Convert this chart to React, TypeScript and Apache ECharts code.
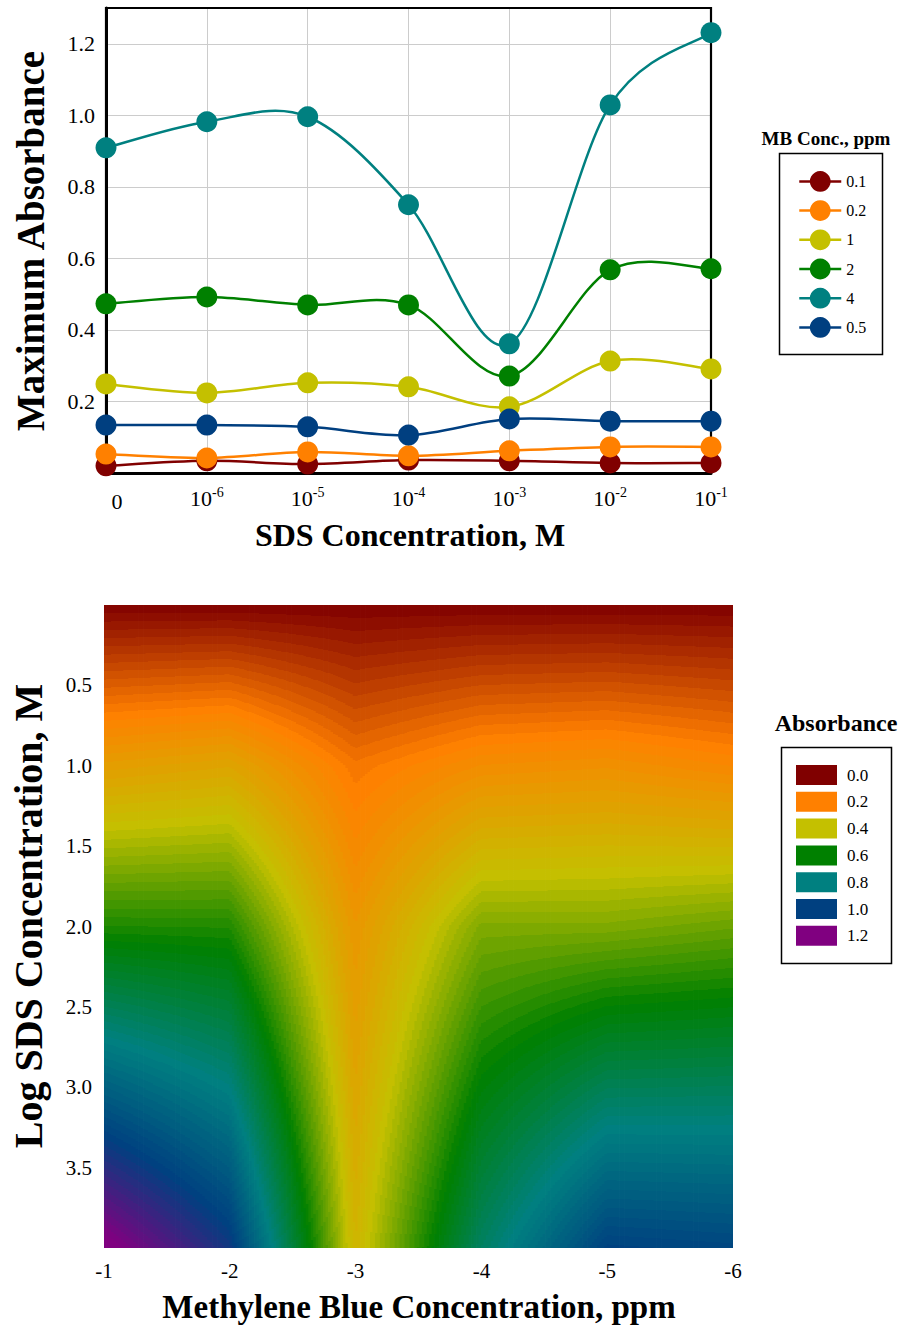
import React, { useEffect, useRef } from 'react';
import * as echarts from 'echarts';

const SERIF = 'Liberation Serif, Times New Roman, serif';

// ---- Top chart data ----
const sdsCategories = ['0', '1e-6', '1e-5', '1e-4', '1e-3', '1e-2', '1e-1'];
const mbNames = ['0.1', '0.2', '1', '2', '4', '0.5'];
const abs01 = [0.020, 0.034, 0.025, 0.036, 0.034, 0.028, 0.028];
const abs02 = [0.053, 0.042, 0.059, 0.048, 0.062, 0.073, 0.073];
const abs1 = [0.249, 0.224, 0.252, 0.241, 0.185, 0.313, 0.291];
const abs2 = [0.473, 0.492, 0.470, 0.470, 0.271, 0.568, 0.571];
const abs4 = [0.909, 0.982, 0.996, 0.750, 0.361, 1.029, 1.231];
const abs05 = [0.134, 0.134, 0.129, 0.106, 0.151, 0.145, 0.145];
const mbColors = ['#800000', '#ff8000', '#c4c000', '#008000', '#008080', '#003f80'];
const yTicksTop = [0.2, 0.4, 0.6, 0.8, 1.0, 1.2];

// ---- Contour data ----
const logSds = [-1, -2, -3, -4, -5, -6];
const contourY = [0, 1, 2, 4];
const absTopEdge = [0, 0, 0, 0, 0, 0, 0];
const contourRows = [absTopEdge, abs1, abs2, abs4];
const absLevels = [0.0, 0.2, 0.4, 0.6, 0.8, 1.0, 1.2];
const absColors = ['#800000', '#ff8000', '#c4c000', '#008000', '#008080', '#004080', '#800080'];
const BAND = 0.015;

function hexToRgb(h: string) {
  return [parseInt(h.slice(1, 3), 16), parseInt(h.slice(3, 5), 16), parseInt(h.slice(5, 7), 16)];
}
function colorAt(v: number) {
  const lo = absLevels[0], hi = absLevels[absLevels.length - 1];
  const c = Math.max(lo, Math.min(hi, v));
  let idx = 0;
  while (idx < absLevels.length - 2 && c > absLevels[idx + 1]) idx++;
  const t = (c - absLevels[idx]) / (absLevels[idx + 1] - absLevels[idx]);
  const a = hexToRgb(absColors[idx]);
  const b = hexToRgb(absColors[idx + 1]);
  const r = a.map((x, k) => Math.round(x + (b[k] - x) * t));
  return `rgb(${r[0]},${r[1]},${r[2]})`;
}
function bandColor(k: number) {
  return colorAt((k + 0.5) * BAND);
}
function makeStops(vmin: number, vmax: number) {
  const span = vmax - vmin;
  const stops: { offset: number; color: string }[] = [];
  let k = Math.floor(vmin / BAND + 1e-9);
  stops.push({ offset: 0, color: bandColor(k) });
  let L = (k + 1) * BAND;
  while (L < vmax - 1e-9) {
    const t = (L - vmin) / span;
    stops.push({ offset: t, color: bandColor(k) });
    stops.push({ offset: t, color: bandColor(k + 1) });
    k++;
    L = (k + 1) * BAND;
  }
  stops.push({ offset: 1, color: bandColor(k) });
  return stops;
}
function stopsBetween(va: number, vb: number) {
  if (va <= vb) return makeStops(va, vb);
  return makeStops(vb, va)
    .map((s) => ({ offset: 1 - s.offset, color: s.color }))
    .reverse();
}

// one item per grid cell: [x0, x1, y0, y1, v(x0,y0), v(x1,y0), v(x0,y1), v(x1,y1)]
function buildCells() {
  const cells: number[][] = [];
  const V = (i: number, j: number) => contourRows[j][7 + logSds[i]];
  for (let i = 0; i < logSds.length - 1; i++) {
    for (let j = 0; j < contourY.length - 1; j++) {
      cells.push([
        logSds[i], logSds[i + 1], contourY[j], contourY[j + 1],
        V(i, j), V(i + 1, j), V(i, j + 1), V(i + 1, j + 1),
      ]);
    }
  }
  return cells;
}

function renderCell(params: any, api: any) {
  const x0 = api.value(0), x1 = api.value(1), y0 = api.value(2), y1 = api.value(3);
  const v00 = api.value(4), v10 = api.value(5), v01 = api.value(6), v11 = api.value(7);
  const pA = api.coord([x0, y0]);
  const pB = api.coord([x1, y1]);
  const top = Math.min(pA[1], pB[1]);
  const h = Math.abs(pB[1] - pA[1]);
  const n = Math.max(1, Math.ceil(Math.abs(pB[0] - pA[0]) / 2.5));
  const children: any[] = [];
  for (let k = 0; k < n; k++) {
    const s = (k + 0.5) / n;
    const px0 = pA[0] + ((pB[0] - pA[0]) * k) / n;
    const px1 = pA[0] + ((pB[0] - pA[0]) * (k + 1)) / n;
    const vTop = v00 + (v10 - v00) * s;
    const vBot = v01 + (v11 - v01) * s;
    let fill: any;
    if (Math.abs(vBot - vTop) < 1e-9) {
      fill = bandColor(Math.floor(vTop / BAND + 1e-9));
    } else {
      const xc = (px0 + px1) / 2;
      fill = new echarts.graphic.LinearGradient(xc, pA[1], xc, pB[1], stopsBetween(vTop, vBot), true);
    }
    children.push({
      type: 'rect',
      shape: { x: Math.min(px0, px1) - 0.4, y: top - 0.4, width: Math.abs(px1 - px0) + 0.8, height: h + 0.8 },
      style: { fill },
    });
  }
  return { type: 'group', children };
}

// Segments for smooth curves: [i, iPrev, vPrev, v0, v1, iNext, vNext]
function buildSegments(vals: number[]) {
  const n = vals.length;
  const segs: number[][] = [];
  for (let i = 0; i < n - 1; i++) {
    const ip = Math.max(i - 1, 0);
    const inx = Math.min(i + 2, n - 1);
    segs.push([i, ip, vals[ip], vals[i], vals[i + 1], inx, vals[inx]]);
  }
  return segs;
}
function makeCurveRenderer(color: string) {
  return (params: any, api: any) => {
    const i = api.value(0);
    const pp = api.coord([api.value(1), api.value(2)]);
    const p0 = api.coord([i, api.value(3)]);
    const p1 = api.coord([i + 1, api.value(4)]);
    const pn = api.coord([api.value(5), api.value(6)]);
    const k = 1 / 6;
    return {
      type: 'bezierCurve',
      shape: {
        x1: p0[0], y1: p0[1], x2: p1[0], y2: p1[1],
        cpx1: p0[0] + (p1[0] - pp[0]) * k, cpy1: p0[1] + (p1[1] - pp[1]) * k,
        cpx2: p1[0] - (pn[0] - p0[0]) * k, cpy2: p1[1] - (pn[1] - p0[1]) * k,
      },
      style: { stroke: color, lineWidth: 2.5, fill: null },
    };
  };
}

export default function App() {
  const ref = useRef<HTMLDivElement>(null);
  useEffect(() => {
    document.body.style.margin = '0';
    if (!ref.current) return;
    const chart = echarts.init(ref.current, null, { renderer: 'svg' });
    const lineData = [abs01, abs02, abs1, abs2, abs4, abs05];

    const curveSeries = mbNames.map((name, i) => ({
      type: 'custom',
      name: 'curve-' + name,
      xAxisIndex: 0,
      yAxisIndex: 0,
      data: buildSegments(lineData[i]),
      renderItem: makeCurveRenderer(mbColors[i]),
      encode: { x: 0, y: 3 },
      clip: false,
      silent: true,
      z: 2,
    }));

    const markerSeries = mbNames.map((name, i) => ({
      name,
      type: 'line',
      xAxisIndex: 0,
      yAxisIndex: 0,
      data: lineData[i],
      symbol: 'circle',
      symbolSize: 21,
      clip: false,
      lineStyle: { color: mbColors[i], width: 2.5, opacity: 0 },
      itemStyle: { color: mbColors[i] },
      z: 3 + i * 0.01,
    }));

    const graphic: any[] = [
      {
        type: 'rect', z: 1, silent: true,
        shape: { x: 106, y: 8, width: 605, height: 465 },
        style: { fill: 'none', stroke: '#000', lineWidth: 2.2 },
      },
      {
        type: 'text', x: 30, y: 241, rotation: Math.PI / 2,
        style: { text: 'Maximum Absorbance', fontSize: 39, fontWeight: 'bold', fontFamily: SERIF, fill: '#000', align: 'center', verticalAlign: 'middle' },
      },
      {
        type: 'text', x: 410, y: 535,
        style: { text: 'SDS Concentration, M', fontSize: 32, fontWeight: 'bold', fontFamily: SERIF, fill: '#000', align: 'center', verticalAlign: 'middle' },
      },
      {
        type: 'text', x: 826, y: 138,
        style: { text: 'MB Conc., ppm', fontSize: 19, fontWeight: 'bold', fontFamily: SERIF, fill: '#000', align: 'center', verticalAlign: 'middle' },
      },
      {
        type: 'rect', silent: true,
        shape: { x: 779.5, y: 153.5, width: 103, height: 201 },
        style: { fill: 'none', stroke: '#000', lineWidth: 1.5 },
      },
      {
        type: 'text', x: 28, y: 916, rotation: Math.PI / 2,
        style: { text: 'Log SDS Concentration, M', fontSize: 40, fontWeight: 'bold', fontFamily: SERIF, fill: '#000', align: 'center', verticalAlign: 'middle' },
      },
      {
        type: 'text', x: 419, y: 1307,
        style: { text: 'Methylene Blue Concentration, ppm', fontSize: 33, fontWeight: 'bold', fontFamily: SERIF, fill: '#000', align: 'center', verticalAlign: 'middle' },
      },
      {
        type: 'text', x: 836, y: 723,
        style: { text: 'Absorbance', fontSize: 24, fontWeight: 'bold', fontFamily: SERIF, fill: '#000', align: 'center', verticalAlign: 'middle' },
      },
      {
        type: 'rect', silent: true,
        shape: { x: 781.5, y: 747.5, width: 110, height: 216 },
        style: { fill: 'none', stroke: '#000', lineWidth: 1.5 },
      },
    ];
    absLevels.forEach((lv, k) => {
      const cy = 775 + k * 26.8;
      graphic.push({
        type: 'rect', silent: true,
        shape: { x: 796, y: cy - 10, width: 41, height: 20 },
        style: { fill: absColors[k] },
      });
      graphic.push({
        type: 'text', x: 847, y: cy,
        style: { text: lv.toFixed(1), fontSize: 17, fontFamily: SERIF, fill: '#000', align: 'left', verticalAlign: 'middle' },
      });
    });

    const option: any = {
      animation: false,
      backgroundColor: '#fff',
      grid: [
        { left: 106, top: 8, width: 605, height: 465 },
        { left: 104, top: 605, width: 629, height: 643 },
      ],
      xAxis: [
        {
          gridIndex: 0, type: 'category', data: sdsCategories, boundaryGap: false,
          axisLine: { lineStyle: { color: '#000', width: 3 } },
          axisTick: { show: false },
          splitLine: { show: true, lineStyle: { color: '#cccccc', width: 1 } },
          axisLabel: {
            interval: 0, margin: 12, color: '#000', fontFamily: SERIF, fontSize: 22,
            formatter: (val: string) => {
              if (val === '0') return '{z|0}';
              const e = val.split('e')[1];
              return '{b|10}{s|' + e + '}';
            },
            rich: {
              z: { fontSize: 22, fontFamily: SERIF, color: '#000', lineHeight: 26, padding: [7, 0, 0, 22] },
              b: { fontSize: 22, fontFamily: SERIF, color: '#000', lineHeight: 26 },
              s: { fontSize: 14, fontFamily: SERIF, color: '#000', lineHeight: 14, verticalAlign: 'top' },
            },
          },
        },
        {
          gridIndex: 1, type: 'value', min: -6, max: -1, interval: 1, inverse: true,
          axisLine: { show: false }, axisTick: { show: false }, splitLine: { show: false },
          axisLabel: { margin: 12, color: '#000', fontFamily: SERIF, fontSize: 21, formatter: (v: number) => String(v) },
        },
      ],
      yAxis: [
        {
          gridIndex: 0, type: 'value', min: 0, max: 1.3, interval: 0.2,
          axisLine: { show: true, lineStyle: { color: '#000', width: 3 } },
          axisTick: { show: false },
          splitLine: { show: true, lineStyle: { color: '#cccccc', width: 1 } },
          axisLabel: {
            margin: 11, color: '#000', fontFamily: SERIF, fontSize: 22, showMinLabel: false, showMaxLabel: false,
            formatter: (v: number) => (yTicksTop.some((t) => Math.abs(t - v) < 1e-6) ? v.toFixed(1) : ''),
          },
        },
        {
          gridIndex: 1, type: 'value', min: 0, max: 4, interval: 0.5, inverse: true,
          axisLine: { show: false }, axisTick: { show: false }, splitLine: { show: false },
          axisLabel: {
            margin: 12, color: '#000', fontFamily: SERIF, fontSize: 21, showMinLabel: false, showMaxLabel: false,
            formatter: (v: number) => v.toFixed(1),
          },
        },
      ],
      legend: {
        data: mbNames, orient: 'vertical', left: 793, top: 166,
        itemWidth: 42, itemHeight: 26, itemGap: 8.4, selectedMode: false,
        lineStyle: { opacity: 1, width: 2.5 },
        textStyle: { fontFamily: SERIF, fontSize: 16, color: '#000' },
      },
      series: [
        ...curveSeries,
        ...markerSeries,
        {
          type: 'custom',
          name: 'contour',
          xAxisIndex: 1,
          yAxisIndex: 1,
          data: buildCells(),
          renderItem: renderCell,
          clip: true,
          silent: true,
          encode: { x: [0, 1], y: [2, 3] },
          z: 2,
        },
      ],
      graphic,
    };
    chart.setOption(option);
    return () => chart.dispose();
  }, []);
  return <div ref={ref} style={{ width: 898, height: 1325 }} />;
}
